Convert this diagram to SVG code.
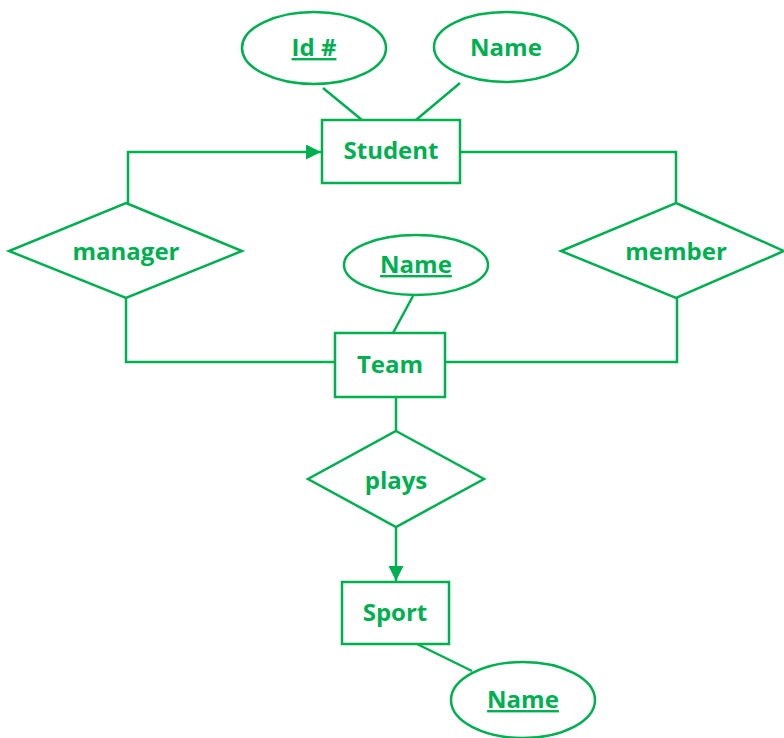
<svg xmlns="http://www.w3.org/2000/svg" width="784" height="738" viewBox="0 0 784 738">
<style>
.s{fill:none;stroke:#00B050;stroke-width:2.5}
.n{fill:#fff;stroke:#00B050;stroke-width:2.5}
.t{font-family:"Open Sans","Liberation Sans",sans-serif;font-weight:bold;font-size:24px;fill:#00B050;text-anchor:middle}
.u{text-decoration:underline}
</style>
<defs>
<marker id="ah" viewBox="0 0 10 10" refX="10" refY="5" markerWidth="6" markerHeight="6" markerUnits="strokeWidth" orient="auto">
<path d="M0,0 L10,5 L0,10 z" fill="#00B050"/>
</marker>
</defs>
<g id="connectors">
<line class="s" x1="323" y1="88" x2="362" y2="120"/>
<line class="s" x1="460" y1="83" x2="416" y2="120"/>
<polyline class="s" points="128,203 128,152 321,152" marker-end="url(#ah)"/>
<polyline class="s" points="460,152 676,152 676,203"/>
<polyline class="s" points="126,298 126,362 335,362"/>
<polyline class="s" points="677,298 677,362 445,362"/>
<line class="s" x1="413" y1="296" x2="393" y2="333"/>
<line class="s" x1="396" y1="397" x2="396" y2="431"/>
<line class="s" x1="396" y1="527" x2="396" y2="581" marker-end="url(#ah)"/>
<line class="s" x1="417" y1="644" x2="472" y2="671"/>
</g>
<g id="student">
<rect class="n" x="322" y="120" width="138" height="63"/>
<text class="t" x="391" y="159">Student</text>
</g>
<g id="student-id">
<ellipse class="n" cx="314" cy="48" rx="72" ry="36"/>
<text class="t u" x="314" y="56">Id #</text>
</g>
<g id="student-name">
<ellipse class="n" cx="506" cy="47" rx="72" ry="35"/>
<text class="t" x="506" y="56">Name</text>
</g>
<g id="manager">
<polygon class="n" points="126,203 242,251 126,298 9,251"/>
<text class="t" x="126" y="260">manager</text>
</g>
<g id="member">
<polygon class="n" points="676,203 784,251 676,298 561,251"/>
<text class="t" x="676" y="260">member</text>
</g>
<g id="team-name">
<ellipse class="n" cx="416" cy="265" rx="72" ry="30"/>
<text class="t u" x="416" y="273">Name</text>
</g>
<g id="team">
<rect class="n" x="335" y="333" width="110" height="64"/>
<text class="t" x="390" y="373">Team</text>
</g>
<g id="plays">
<polygon class="n" points="396,431 484,479 396,527 308,479"/>
<text class="t" x="396" y="489">plays</text>
</g>
<g id="sport">
<rect class="n" x="342" y="582" width="107" height="62"/>
<text class="t" x="395" y="621">Sport</text>
</g>
<g id="sport-name">
<ellipse class="n" cx="523" cy="700" rx="72" ry="38"/>
<text class="t u" x="523" y="708">Name</text>
</g>
</svg>
